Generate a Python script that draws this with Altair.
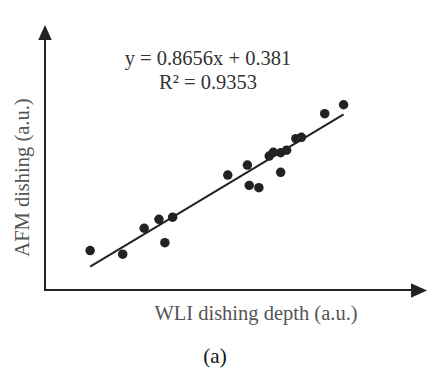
import altair as alt
import pandas as pd

# Data (arbitrary units)
wli_depth = [1.22, 2.10, 2.68, 3.08, 3.24, 3.45, 4.94, 5.47, 5.52, 5.78,
             6.06, 6.17, 6.37, 6.37, 6.53, 6.78, 6.93, 7.56, 8.07]
afm_dishing = [2.06, 1.92, 2.93, 3.28, 2.37, 3.36, 5.00, 5.39, 4.60, 4.51,
               5.74, 5.89, 5.87, 5.11, 5.97, 6.42, 6.47, 7.39, 7.74]

slope = 0.8656
intercept = 0.381
r_squared = 0.9353
fit_x_range = [1.22, 8.07]

eq_line1 = "y = 0.8656x  + 0.381"
eq_line2 = "R\u00b2 = 0.9353"
x_title = "WLI dishing depth (a.u.)"
y_title = "AFM dishing (a.u.)"
panel_label = "(a)"

pts = pd.DataFrame({"x": wli_depth, "y": afm_dishing})
fit = pd.DataFrame({"x": fit_x_range,
                    "y": [slope * v + intercept for v in fit_x_range]})

W, H = 432, 366
xs = alt.Scale(domain=[-1.0, 10.6757], nice=False, zero=False)
ys = alt.Scale(domain=[-2.745, 11.507], nice=False, zero=False)
FONT = "Liberation Serif"

points = alt.Chart(pts).mark_circle(size=90, color="#222222", opacity=1).encode(
    x=alt.X("x:Q", scale=xs, axis=None),
    y=alt.Y("y:Q", scale=ys, axis=None),
)
line = alt.Chart(fit).mark_line(color="#222222", strokeWidth=2).encode(
    x=alt.X("x:Q", scale=xs, axis=None),
    y=alt.Y("y:Q", scale=ys, axis=None),
)

one = pd.DataFrame({"k": [0]})
yaxis = alt.Chart(one).mark_rule(color="#222222", strokeWidth=2).encode(
    x=alt.value(37), y=alt.value(31), y2=alt.value(283))
xaxis = alt.Chart(one).mark_rule(color="#222222", strokeWidth=2).encode(
    x=alt.value(36), x2=alt.value(406), y=alt.value(282))
yarrow = alt.Chart(one).mark_point(
    shape="M-0.9,1L0,-1L0.9,1Z", size=225, filled=True, color="#222222", opacity=1
).encode(x=alt.value(37), y=alt.value(24.5))
xarrow = alt.Chart(one).mark_point(
    shape="M-1,-0.9L1,0L-1,0.9Z", size=256, filled=True, color="#222222", opacity=1
).encode(x=alt.value(411), y=alt.value(282.5))

def txt(s, x, y, size, color, angle=0, **kw):
    return alt.Chart(pd.DataFrame({"k": [0]})).mark_text(
        font=FONT, fontSize=size, color=color, align="center",
        baseline="alphabetic", angle=angle, text=s, **kw
    ).encode(x=alt.value(x), y=alt.value(y))

texts = [
    txt(eq_line1, 200, 57, 20.5, "#333333"),
    txt(eq_line2, 200, 80.5, 20.5, "#333333"),
    txt(x_title, 248, 312, 20.5, "#555555"),
    txt(y_title, 21, 169.5, 20.5, "#555555", angle=270),
    txt(panel_label, 207, 355, 21, "#111111"),
]

chart = alt.layer(yaxis, xaxis, yarrow, xarrow, line, points, *texts).properties(
    width=W, height=H, autosize=alt.AutoSizeParams(type="none"), padding=0
).configure_view(stroke=None)

chart.save("out.html", embed_options={"renderer": "svg", "actions": False})
